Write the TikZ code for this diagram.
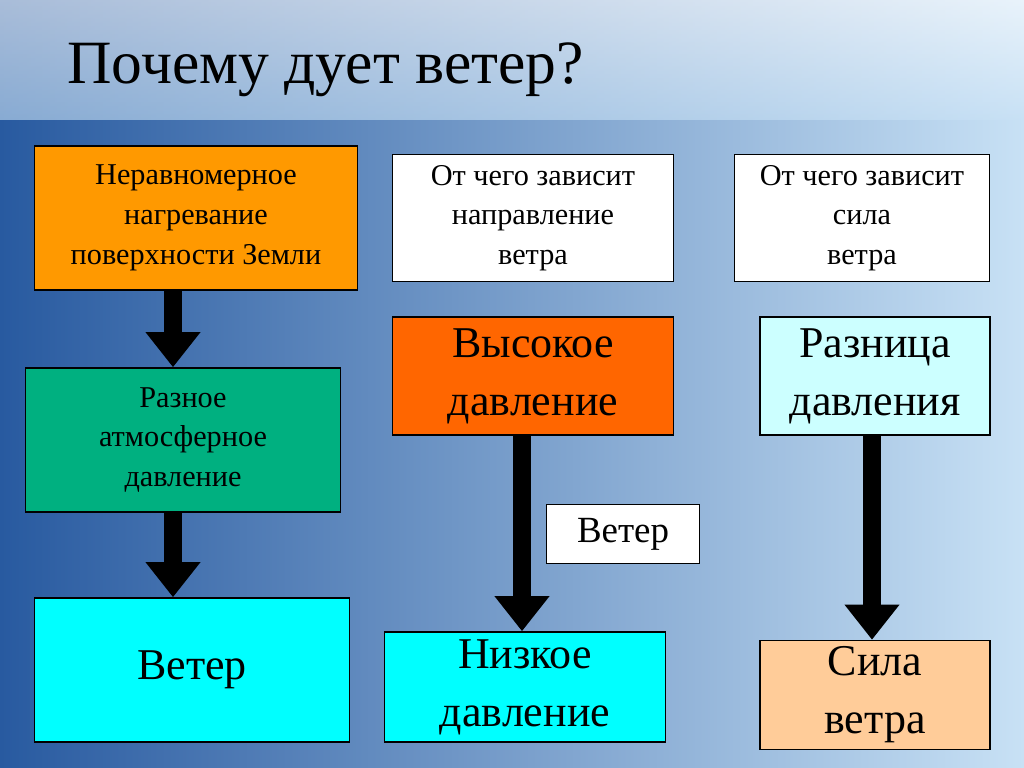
\documentclass[tikz,border=0pt]{standalone}
\usepackage{fontspec}
\setmainfont{Liberation Serif}
\usetikzlibrary{arrows.meta,positioning}
\definecolor{myorange}{RGB}{255,153,0}
\definecolor{myred}{RGB}{255,102,0}
\definecolor{mygreen}{RGB}{0,176,128}
\definecolor{mycyan}{RGB}{0,255,255}
\definecolor{mylight}{RGB}{204,255,255}
\definecolor{mypeach}{RGB}{255,204,153}
\definecolor{bgdark}{RGB}{40,90,160}
\definecolor{bglight}{RGB}{200,225,245}
\tikzset{
  box/.style={draw,thin,inner sep=0pt,align=center,font=\fontsize{8.6}{11.3}\selectfont},
  bigbox/.style={box,font=\fontsize{12.5}{16.5}\selectfont},
  flow/.style={line width=5pt,-{Triangle[length=10pt,width=15pt]}}
}
\begin{document}
\begin{tikzpicture}[x=0.01cm,y=-0.01cm]
\useasboundingbox (0,0) rectangle (1024,768);
\shade[left color=bgdark,right color=bglight] (0,0) rectangle (1024,768);
\shade[top color=white,bottom color=bglight,opacity=0.6] (0,0) rectangle (1024,120);
\node[anchor=west,font=\fontsize{17.5}{19}\selectfont] (title) at (55,70) {Почему дует ветер?};
% left column
\node[box,fill=myorange,minimum width=3.23cm,minimum height=1.44cm] (heat) at (196,218)
  {Неравномерное\\нагревание\\поверхности Земли};
\node[box,fill=mygreen,minimum width=3.15cm,minimum height=1.44cm] (press) at (183,440)
  {Разное\\атмосферное\\давление};
\node[bigbox,fill=mycyan,minimum width=3.15cm,minimum height=1.44cm] (wind) at (192,670) {Ветер};
% middle column
\node[box,fill=white,minimum width=2.81cm,minimum height=1.27cm] (dir) at (533,218)
  {От чего зависит\\направление\\ветра};
\node[bigbox,fill=myred,minimum width=2.81cm,minimum height=1.18cm] (high) at (533,376)
  {Высокое\\давление};
\node[bigbox,fill=mycyan,minimum width=2.81cm,minimum height=1.10cm] (low) at (525,687)
  {Низкое\\давление};
\node[bigbox,fill=white,minimum width=1.53cm,minimum height=0.59cm,font=\fontsize{10.5}{12}\selectfont] (wlabel) at (623,534) {Ветер};
% right column
\node[box,fill=white,minimum width=2.55cm,minimum height=1.27cm] (force) at (862,218)
  {От чего зависит\\сила\\ветра};
\node[bigbox,fill=mylight,minimum width=2.30cm,minimum height=1.18cm] (diff) at (875,376)
  {Разница\\давления};
\node[bigbox,fill=mypeach,minimum width=2.30cm,minimum height=1.09cm] (speed) at (875,695)
  {Сила\\ветра};
% arrows
\draw[flow] (heat.south -| 173,0) -- (press.north -| 173,0);
\draw[flow] (press.south -| 173,0) -- (wind.north -| 173,0);
\draw[flow] (high.south -| 522,0) -- (low.north -| 522,0);
\draw[flow] (diff.south -| 872,0) -- (speed.north -| 872,0);
\end{tikzpicture}
\end{document}
